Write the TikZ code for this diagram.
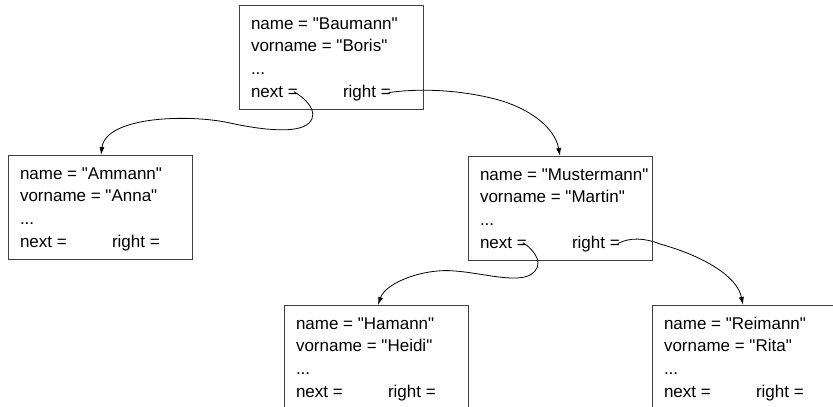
\documentclass[tikz,border=0pt]{standalone}
\usepackage{fontspec}
\setmainfont{Liberation Sans}[Ligatures=TeXOff]
\usetikzlibrary{arrows.meta}
\begin{document}
\begin{tikzpicture}[x=1pt,y=-1pt,
  pbox/.style={draw=black!75, line width=1pt, minimum width=184pt, minimum height=104pt, inner sep=0pt, outer sep=0pt},
  ptext/.style={anchor=base west, inner sep=0pt, outer sep=0pt, font=\fontsize{17}{20}\selectfont},
  link/.style={line width=0.8pt, -{Latex[length=8pt,width=5pt]}}]
\useasboundingbox (0,0) rectangle (833,407);
\clip (0,0) rectangle (833,407);
\newcommand\persbox[5]{%
  \node[pbox] (#1) at ({#2+92},{#3+52}) {};
  \node[ptext] (#1-name) at ({#2+12},{#3+24}) {name = "#4"};
  \node[ptext] (#1-vor) at ({#2+12},{#3+46}) {vorname = "#5"};
  \node[ptext] (#1-dots) at ({#2+12},{#3+69}) {...};
  \node[ptext] (#1-next) at ({#2+12},{#3+92}) {next =};
  \node[ptext] (#1-right) at ({#2+104},{#3+92}) {right =};
}
\persbox{bau}{239}{5}{Baumann}{Boris}
\persbox{amm}{8}{155}{Ammann}{Anna}
\persbox{mus}{468}{156}{Mustermann}{Martin}
\persbox{ham}{284}{305}{Hamann}{Heidi}
\persbox{rei}{652}{305}{Reimann}{Rita}
% waypoints
\coordinate (w1) at (309,123);
\coordinate (w2) at (230,123);
\coordinate (w3) at (495,99);
\coordinate (w4) at (530,275);
\coordinate (w5) at (455,271);
\coordinate (w6) at (660,244);
% connectors
\draw[link] ([xshift=-4pt]bau-next.east) .. controls (305,98) and (320,112) .. (w1)
   .. controls (298,134) and (262,130) .. (w2)
   .. controls (190,114) and (106,116) .. (amm.north -| 101,0);
\draw[link] ([xshift=-2pt]bau-right.east) .. controls (420,88) and (460,90) .. (w3)
   .. controls (530,108) and (555,128) .. (mus.north -| 560,0);
\draw[link] ([xshift=-4pt]mus-next.east) .. controls (535,250) and (546,266) .. (w4)
   .. controls (515,283) and (482,273) .. (w5)
   .. controls (425,268) and (386,282) .. (ham.north -| 378,0);
\draw[link] ([xshift=-2pt]mus-right.east) .. controls (630,237) and (645,238) .. (w6)
   .. controls (700,255) and (737,275) .. (rei.north -| 743,0);
\end{tikzpicture}
\end{document}
